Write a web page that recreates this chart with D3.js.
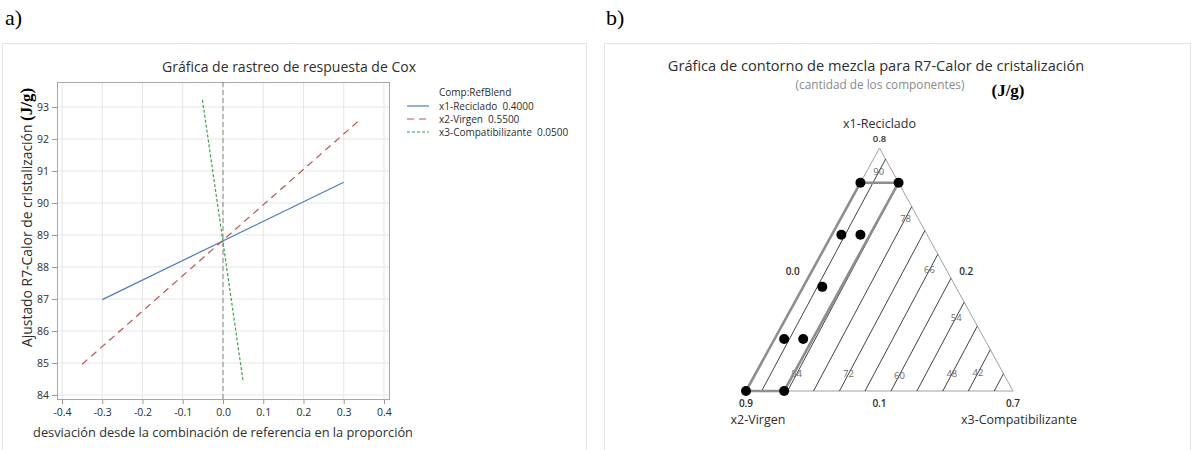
<!DOCTYPE html>
<html>
<head>
<meta charset="utf-8">
<script src="https://cdn.jsdelivr.net/npm/d3@7"></script>
<style>
  html, body { margin: 0; padding: 0; background: #fff; }
  svg { display: block; }
  text { font-family: "Open Sans", "Noto Sans", sans-serif; }
</style>
</head>
<body>
<svg id="chart" width="1192" height="450"></svg>
<script>
// ---------- Cox response trace ----------
const components = ["x1-Reciclado", "x2-Virgen", "x3-Compatibilizante"];
const refBlend = [0.4000, 0.5500, 0.0500];
// deviation from the reference blend at the two ends of each trace
const traceDeviation = [[-0.30, 0.30], [-0.35, 0.34], [-0.051, 0.050]];
// fitted heat of crystallisation at those ends
const traceResponse = [[86.98, 90.65], [84.96, 92.60], [93.22, 84.42]];
const xTicks = [-0.4, -0.3, -0.2, -0.1, 0.0, 0.1, 0.2, 0.3, 0.4];
const yTicks = [84, 85, 86, 87, 88, 89, 90, 91, 92, 93];

// ---------- Mixture contour plot ----------
const lowerBound = [0.1, 0.2, 0.0];            // component minima (side labels)
const vertexLabels = ["0.8", "0.9", "0.7"];    // component maxima at the vertices
const sideLabels = ["0.1", "0.2", "0.0"];      // minima, printed on the opposite side
const designPoints = [
  [0.70, 0.30, 0.00], [0.70, 0.20, 0.10],
  [0.55, 0.425, 0.025], [0.55, 0.375, 0.075],
  [0.40, 0.55, 0.05],
  [0.25, 0.725, 0.025], [0.25, 0.675, 0.075],
  [0.10, 0.90, 0.00], [0.10, 0.80, 0.10]
];
const designRegion = [[0.10, 0.90, 0.00], [0.70, 0.30, 0.00], [0.70, 0.20, 0.10], [0.10, 0.80, 0.10]];
const contourLevels = [90, 84, 78, 72, 66, 60, 54, 48, 42, 36];
// x3 where each contour leaves the x1 = 0.1 side
const contourStartX3 = [0.041, 0.109, 0.177, 0.245, 0.312, 0.380, 0.448, 0.516, 0.583, 0.651];
// x1 where each contour reaches the x2 = 0.2 side
const contourEndX1 = [0.768, 0.700, 0.631, 0.562, 0.494, 0.425, 0.356, 0.287, 0.219, 0.150];

// where along each contour (as an x1 amount) its value is printed
const contourLabelAt = {90: 0.731, 84: 0.149, 78: 0.598, 72: 0.149, 66: 0.449, 60: 0.146, 54: 0.313, 48: 0.149, 42: 0.152};

const svg = d3.select("#chart");
const ink = "#2e2e2e";

// panel frames
svg.append("rect").attr("x", 2.5).attr("y", 43.5).attr("width", 584).attr("height", 420)
  .attr("fill", "#fff").attr("stroke", "#e3e3e3");
svg.append("rect").attr("x", 604.5).attr("y", 43.5).attr("width", 586).attr("height", 420)
  .attr("fill", "#fff").attr("stroke", "#e3e3e3");

svg.append("text").attr("x", 5).attr("y", 25).text("a)")
  .style("font-family", "'Liberation Serif', 'Times New Roman', serif").style("font-size", "22px").attr("fill", "#000");
svg.append("text").attr("x", 606).attr("y", 25).text("b)")
  .style("font-family", "'Liberation Serif', 'Times New Roman', serif").style("font-size", "22px").attr("fill", "#000");

// ================= a) Cox response trace =================
const plot = {left: 57, right: 389, top: 82, bottom: 399};
const x = d3.scaleLinear().domain([-0.4125, 0.4125]).range([plot.left, plot.right]);
const y = d3.scaleLinear().domain([83.875, 93.78]).range([plot.bottom, plot.top]);

const gA = svg.append("g");

gA.append("text").attr("x", 289).attr("y", 66).attr("text-anchor", "middle")
  .attr("dominant-baseline", "central").attr("fill", ink)
  .style("font-size", "14px").text("Gráfica de rastreo de respuesta de Cox");

// grid
gA.append("g").selectAll("line").data(xTicks).join("line")
  .attr("x1", d => x(d)).attr("x2", d => x(d)).attr("y1", plot.top).attr("y2", plot.bottom)
  .attr("stroke", "#e6e6e6");
gA.append("g").selectAll("line").data(yTicks).join("line")
  .attr("x1", plot.left).attr("x2", plot.right).attr("y1", d => y(d)).attr("y2", d => y(d))
  .attr("stroke", "#e6e6e6");

// axes
const xAxis = gA.append("g").attr("transform", `translate(0,${plot.bottom})`)
  .call(d3.axisBottom(x).tickValues(xTicks).tickSize(5).tickPadding(5).tickFormat(d => d.toFixed(1)));
const yAxis = gA.append("g").attr("transform", `translate(${plot.left},0)`)
  .call(d3.axisLeft(y).tickValues(yTicks).tickSize(5).tickPadding(3).tickFormat(d3.format("d")));
[xAxis, yAxis].forEach(a => {
  a.select(".domain").remove();
  a.selectAll(".tick line").attr("stroke", "#999");
  a.selectAll(".tick text").attr("fill", ink).style("font-size", "10.5px")
    .style("font-family", "'Open Sans', 'Noto Sans', sans-serif");
});

// frame
gA.append("rect").attr("x", plot.left + 0.5).attr("y", plot.top + 0.5)
  .attr("width", plot.right - plot.left).attr("height", plot.bottom - plot.top)
  .attr("fill", "none").attr("stroke", "#a8a8a8");

// reference blend marker
gA.append("line").attr("x1", x(0)).attr("x2", x(0)).attr("y1", plot.top).attr("y2", plot.bottom)
  .attr("stroke", "#7a7a7a").attr("stroke-dasharray", "5,3").attr("stroke-width", 0.9);

const colors = ["#4a7cc0", "#c0504d", "#3f9e4a"];
const dashes = [null, "7,5", "3,2"];
const line = d3.line().x(d => x(d[0])).y(d => y(d[1]));
components.forEach((c, i) => {
  const pts = traceDeviation[i].map((dv, j) => [dv, traceResponse[i][j]]);
  gA.append("path").attr("d", line(pts)).attr("fill", "none")
    .attr("stroke", colors[i]).attr("stroke-width", 1.2)
    .attr("stroke-dasharray", dashes[i]);
});

// legend
const lg = gA.append("g");
lg.append("text").attr("x", 439).attr("y", 92).attr("dominant-baseline", "central")
  .attr("fill", ink).style("font-size", "10px").text("Comp:RefBlend");
components.forEach((c, i) => {
  const ly = 106 + i * 13;
  lg.append("line").attr("x1", 407).attr("x2", 429).attr("y1", ly).attr("y2", ly)
    .attr("stroke", colors[i]).attr("stroke-width", 1.2).attr("stroke-dasharray", dashes[i]);
  lg.append("text").attr("x", 439).attr("y", ly).attr("dominant-baseline", "central")
    .attr("fill", ink).style("font-size", "10px").style("white-space", "pre")
    .text(`${c}  ${refBlend[i].toFixed(4)}`);
});

// axis titles
const yl = gA.append("text").attr("transform", "translate(32,347) rotate(-90)")
  .attr("fill", ink).style("font-size", "13.9px");
yl.append("tspan").text("Ajustado R7-Calor de cristalización ");
yl.append("tspan").text("(J/g)").attr("fill", "#000")
  .style("font-family", "'Liberation Serif', 'Times New Roman', serif")
  .style("font-weight", "bold").style("font-size", "17px");

gA.append("text").attr("x", 223).attr("y", 437).attr("text-anchor", "middle")
  .attr("fill", ink).style("font-size", "12.8px")
  .text("desviación desde la combinación de referencia en la proporción");

// ================= b) Mixture contour plot =================
const gB = svg.append("g");
gB.append("text").attr("x", 876).attr("y", 65).attr("text-anchor", "middle")
  .attr("dominant-baseline", "central").attr("fill", ink).style("font-size", "14.6px")
  .text("Gráfica de contorno de mezcla para R7-Calor de cristalización");
gB.append("text").attr("x", 880).attr("y", 84).attr("text-anchor", "middle")
  .attr("dominant-baseline", "central").attr("fill", "#8a8a8a").style("font-size", "11.8px")
  .text("(cantidad de los componentes)");
gB.append("text").attr("x", 1008).attr("y", 96).attr("text-anchor", "middle")
  .attr("fill", "#000").style("font-family", "'Liberation Serif', 'Times New Roman', serif")
  .style("font-weight", "bold").style("font-size", "17px").text("(J/g)");

// ternary frame: x1 at the apex, x2 bottom-left, x3 bottom-right
const span = 1 - d3.sum(lowerBound);
const pseudo = c => c.map((v, i) => (v - lowerBound[i]) / span);
const ty = d3.scaleLinear().domain([0, 1]).range([391, 148]);   // pseudo x1 -> vertical
const tx = d3.scaleLinear().domain([0, 1]).range([746, 1013]);  // pseudo x3 + x1/2 -> horizontal
const toXY = c => { const p = pseudo(c); return [tx(p[2] + p[0] / 2), ty(p[0])]; };

const vertices = [[0.8, 0.2, 0.0], [0.1, 0.9, 0.0], [0.1, 0.2, 0.7]].map(toXY);
gB.append("path").attr("d", d3.line()(vertices) + "Z")
  .attr("fill", "none").attr("stroke", "#a0a0a0").attr("stroke-width", 1);

// contour lines
const contours = contourLevels.map((lv, i) => {
  const s = [0.1, 1 - 0.1 - contourStartX3[i], contourStartX3[i]];
  const e = [contourEndX1[i], 0.2, 1 - contourEndX1[i] - 0.2];
  return {level: lv, start: s, end: e};
});
gB.append("g").selectAll("path").data(contours).join("path")
  .attr("d", d => d3.line()([toXY(d.start), toXY(d.end)]))
  .attr("fill", "none").attr("stroke", "#111").attr("stroke-width", 0.8);

// contour values
gB.append("g").selectAll("text").data(contours.filter(d => contourLabelAt[d.level] !== undefined)).join("text")
  .each(function(d) {
    const t = (contourLabelAt[d.level] - d.start[0]) / (d.end[0] - d.start[0]);
    const a = toXY(d.start), b = toXY(d.end);
    d3.select(this).attr("x", a[0] + t * (b[0] - a[0])).attr("y", a[1] + t * (b[1] - a[1]));
  })
  .attr("text-anchor", "middle").attr("dominant-baseline", "central")
  .attr("fill", "#6a6a6a").style("font-size", "9.5px").text(d => d.level);

// design region
gB.append("path").attr("d", d3.line()(designRegion.map(toXY)) + "Z")
  .attr("fill", "none").attr("stroke", "#8e8e8e").attr("stroke-width", 2.6)
  .attr("stroke-linejoin", "round");

// design points
gB.append("g").selectAll("circle").data(designPoints).join("circle")
  .attr("cx", d => toXY(d)[0]).attr("cy", d => toXY(d)[1]).attr("r", 5).attr("fill", "#000");

// vertex & side annotations
const lbl = (tx0, ty0, txt, size, weight, anchor) => gB.append("text")
  .attr("x", tx0).attr("y", ty0).attr("text-anchor", anchor || "middle")
  .attr("dominant-baseline", "central").attr("fill", ink)
  .style("font-size", size).style("font-weight", weight).text(txt);

lbl(vertices[0][0], 123, components[0], "12.5px", "normal");
lbl(vertices[0][0], 138, vertexLabels[0], "9.5px", "600");
lbl(vertices[1][0], 403, vertexLabels[1], "10px", "600");
lbl(vertices[2][0], 403, vertexLabels[2], "10px", "600");
lbl(758, 419, components[1], "12.5px", "normal");
lbl(1019, 419, components[2], "12.5px", "normal");
lbl((vertices[1][0] + vertices[2][0]) / 2, 403, sideLabels[0], "10px", "600");
lbl((vertices[0][0] + vertices[2][0]) / 2 + 20, (vertices[0][1] + vertices[2][1]) / 2 + 1, sideLabels[1], "10px", "600");
lbl((vertices[0][0] + vertices[1][0]) / 2 - 20, (vertices[0][1] + vertices[1][1]) / 2 + 1, sideLabels[2], "10px", "600");
</script>
</body>
</html>
